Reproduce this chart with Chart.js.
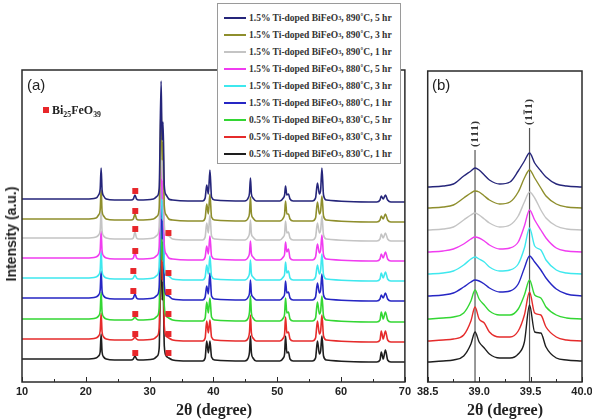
<!DOCTYPE html>
<html lang="en">
<head>
<meta charset="UTF-8">
<title>Ti-doped BiFeO3 XRD patterns</title>
<script src="https://cdn.jsdelivr.net/npm/chart.js@4.4.0/dist/chart.umd.min.js"></script>
<style>
  body { margin: 0; background: #fff; }
  #wrap { position: relative; width: 592px; height: 420px; overflow: hidden; font-family: "Liberation Sans", Arial, sans-serif; color: #222; }
  canvas { position: absolute; top: 0; }
  #chartA { left: 0; }
  #chartB { left: 414px; }
  .lbl { position: absolute; white-space: nowrap; }
  .panel { font-size: 15px; top: 76px; }
  .xtitle { top: 410px; font: bold 16px "Liberation Serif", serif; transform: translate(-50%, -50%); }
  .ytitle { left: 11px; top: 234px; font: bold 14px "Liberation Sans", Arial, sans-serif; transform: translate(-50%, -50%) rotate(-90deg); }
  #bi25 { left: 43px; top: 103px; font: bold 12px "Liberation Serif", serif; }
  #bi25 i { display: inline-block; width: 6px; height: 6px; background: #e8262a; margin-right: 3px; vertical-align: 1px; }
  sub { font-size: 0.65em; vertical-align: -0.35em; line-height: 0; }
  #legend { position: absolute; left: 217px; top: 3px; width: 184px; height: 161px; border: 1px solid #9a9a9a; background: #fff; padding-top: 5px; box-sizing: border-box; }
  #legend .row { display: flex; align-items: center; height: 17.1px; padding-left: 6px; font: bold 9.5px "Liberation Serif", serif; color: #333; }
  #legend .sw { display: inline-block; width: 22px; height: 2px; margin-right: 3px; }
</style>
</head>
<body>
<div id="wrap">
  <canvas id="chartA" width="414" height="420"></canvas>
  <canvas id="chartB" width="190" height="420"></canvas>
  <div id="legend"></div>
  <div class="lbl panel" style="left:27px">(a)</div>
  <div class="lbl panel" style="left:432px">(b)</div>
  <div class="lbl" id="bi25"><i></i>Bi<sub>25</sub>FeO<sub>39</sub></div>
  <div class="lbl ytitle">Intensity (a.u.)</div>
  <div class="lbl xtitle" style="left:214px">2θ (degree)</div>
  <div class="lbl xtitle" style="left:505px">2θ (degree)</div>
</div>

<script>
// samples, top to bottom
const doping = ["1.5%", "1.5%", "1.5%", "1.5%", "1.5%", "1.5%", "0.5%", "0.5%", "0.5%"];
const tempC = [890, 890, 890, 880, 880, 880, 830, 830, 830];
const hours = [5, 3, 1, 5, 3, 1, 5, 3, 1];
const colors = ["#25257a", "#8e8e2c", "#c4c4c4", "#f03cf0", "#3ee8ee", "#2626c4", "#33d633", "#e52b2b", "#1e1e1e"];

// panel (a): wide scan, 10-70 deg
const twoThetaA = [10, 20, 21.6, 22.0, 22.25, 22.4, 22.55, 22.8, 23.2, 24.5,
  27.1, 27.45, 27.7, 27.95, 28.3,
  30.6, 31.2, 31.5, 31.8, 31.95, 32.1, 32.3, 32.6, 33.0, 33.6,
  36.0, 38.3, 38.7, 38.95, 39.2, 39.45, 39.7, 40.2,
  44.9, 45.45, 45.65, 45.8, 45.95, 46.2, 46.7,
  50.4, 50.95, 51.15, 51.3, 51.5, 51.75, 52.0, 52.5,
  55.5, 56.0, 56.3, 56.6, 56.8, 57.0, 57.25, 57.7,
  65.6, 66.1, 66.3, 66.6, 66.95, 67.3, 67.8, 70];
const offsetA = [180, 160, 141, 121, 101, 81, 60, 40, 20];
const navyA = [3,3,4,7,13,34,12,6,3,2, 2,3,7,3,2, 3,6,14,121,62,80,16,7,3,2,
  1,1,4,17,8,32,5,2, 1,4,9,24,8,4,1, 1,4,7,16,7,8,3,1, 1,4,19,8,12,34,7,2, 0,2,6,3,7,2,0,0];
const oliveA = [3,3,4,7,12,32,11,6,3,2, 2,3,8,3,2, 3,6,14,120,62,80,16,7,3,2,
  1,1,4,18,8,28,5,2, 1,4,9,25,8,4,1, 1,4,8,21,8,8,3,1, 1,4,20,8,11,26,6,2, 0,2,6,3,8,2,0,0];
const grayA = [3,3,4,6,11,30,10,5,3,2, 2,3,9,3,2, 3,6,14,120,62,80,16,6,5,2,
  1,1,4,18,8,26,5,2, 1,4,8,21,7,4,1, 1,4,7,20,8,9,3,1, 1,4,18,8,11,25,6,2, 0,2,7,3,8,2,0,0];
const magentaA = [3,3,4,6,11,30,10,5,3,2, 2,3,8,3,2, 3,6,14,120,62,80,16,7,3,2,
  1,1,4,15,7,25,5,2, 1,4,8,20,7,4,1, 1,4,7,19,9,12,3,1, 1,4,17,8,11,26,6,2, 0,2,7,3,9,2,0,0];
const cyanA = [3,3,4,6,11,30,10,5,3,2, 2,3,6,3,2, 3,6,14,120,62,80,16,6,5,2,
  1,1,4,16,7,25,5,2, 1,4,8,21,7,4,1, 1,4,7,19,8,10,3,1, 1,4,16,7,11,27,6,2, 0,2,8,3,9,2,0,0];
const blueA = [3,3,4,6,11,30,10,5,3,2, 2,3,7,3,2, 3,6,14,120,62,80,16,6,5,2,
  1,1,4,15,7,28,5,2, 1,4,8,21,7,4,1, 1,4,7,20,8,9,3,1, 1,4,18,8,11,27,6,2, 0,2,6,3,8,2,0,0];
const greenA = [3,3,4,6,11,30,10,5,3,2, 2,3,5,3,2, 3,6,14,120,62,80,16,6,4,2,
  1,1,4,20,9,24,5,2, 1,4,10,26,9,4,1, 1,4,8,24,9,10,3,1, 1,4,20,8,11,26,6,2, 0,2,10,3,10,2,0,0];
const redA = [3,3,4,6,11,29,10,5,3,2, 2,3,5,3,2, 3,6,14,120,62,80,16,6,4,2,
  1,1,4,21,9,22,5,2, 1,4,10,27,9,4,1, 1,4,8,25,9,10,3,1, 1,4,21,8,11,27,6,2, 0,2,11,3,11,2,0,0];
const blackA = [3,3,4,6,10,28,10,5,3,2, 2,3,6,3,2, 3,6,14,120,62,80,16,6,4,2,
  1,1,4,21,9,21,5,2, 1,4,10,26,9,4,1, 1,4,8,26,9,10,3,1, 1,4,21,8,11,26,6,2, 0,2,10,3,12,2,0,0];
const seriesA = [navyA, oliveA, grayA, magentaA, cyanA, blueA, greenA, redA, blackA];

// Bi25FeO39 impurity markers
const bi25X = [27.75, 27.75, 27.75, 27.75, 27.45, 27.45, 27.75, 27.75, 27.75, 32.95, 32.95, 32.95, 32.95, 32.95, 32.95];
const bi25Y = [191, 171, 153, 131, 111, 91, 68, 48, 29, 149, 109, 90, 68, 48, 29];

const ticksA = [10, 20, 30, 40, 50, 60, 70];
const minorA = [15, 25, 35, 45, 55, 65];

// panel (b): zoom on the 39-39.5 deg doublet
const twoThetaB = [38.5, 38.65, 38.75, 38.85, 38.92, 38.96, 39.0, 39.05, 39.1, 39.2,
  39.3, 39.38, 39.44, 39.49, 39.54, 39.6, 39.65, 39.75, 39.85, 40.0];
const offsetB = [195, 174, 152, 130, 108, 86, 63, 41, 20];
const navyB    = [0,1,3,11,16,19,17,12,7,3, 5,16,26,34,24,16,10,3,1,0];
const oliveB   = [0,1,3,10,15,17,16,12,8,4, 6,16,30,38,30,20,12,4,1,0];
const grayB    = [0,1,3,10,15,17,15,11,7,3, 5,14,28,38,32,20,12,4,1,0];
const magentaB = [0,1,3,8,13,15,14,11,7,3, 4,10,26,42,32,22,14,4,1,0];
const cyanB    = [0,1,3,9,15,17,15,12,7,3, 4,10,26,46,28,24,14,4,1,0];
const blueB    = [0,1,3,9,14,16,15,12,8,4, 5,12,28,40,34,26,18,7,2,0];
const greenB   = [0,1,2,6,18,29,20,14,8,4, 4,10,24,39,24,21,12,4,1,0];
const redB     = [0,1,2,6,20,34,22,18,9,4, 4,10,26,49,28,26,14,4,1,0];
const blackB   = [0,1,2,6,18,30,20,14,8,4, 4,8,20,57,30,29,15,4,2,1];
const seriesB = [navyB, oliveB, grayB, magentaB, cyanB, blueB, greenB, redB, blackB];

const hklX = [38.96, 39.49];
const hklTop = [232, 254];
const ticksB = [38.5, 39.0, 39.5, 40.0];
const minorB = [38.75, 39.25, 39.75];

const labels = doping.map((d, i) => `${d} Ti-doped BiFeO<sub>3</sub>, ${tempC[i]}˚C, ${hours[i]} hr`);

// legend box
const legend = document.getElementById("legend");
labels.forEach((t, i) => {
    const row = document.createElement("div");
    row.className = "row";
    row.innerHTML = `<span class="sw" style="background:${colors[i]}"></span>${t}`;
    legend.appendChild(row);
});

Chart.defaults.font.family = '"Liberation Sans", Arial, sans-serif';
Chart.defaults.color = "#222";

// box around the plot and inward tick marks
const framePlugin = {
    id: "frame",
    afterDatasetsDraw(chart, args, opts) {
        const { ctx, chartArea: a, scales: { x } } = chart;
        ctx.save();
        ctx.strokeStyle = "#2a2a2a";
        ctx.lineWidth = 1.5;
        ctx.strokeRect(a.left, a.top, a.right - a.left, a.bottom - a.top);
        ctx.lineWidth = 1;
        ctx.beginPath();
        opts.major.forEach(v => {
            const px = Math.round(x.getPixelForValue(v)) + 0.5;
            ctx.moveTo(px, a.bottom); ctx.lineTo(px, a.bottom - 5);
        });
        opts.minor.forEach(v => {
            const px = Math.round(x.getPixelForValue(v)) + 0.5;
            ctx.moveTo(px, a.bottom); ctx.lineTo(px, a.bottom - 3);
        });
        ctx.stroke();
        ctx.restore();
    }
};

// (111) and (11-1) labels over the reference lines
const hklPlugin = {
    id: "hkl",
    afterDatasetsDraw(chart) {
        const { ctx, scales: { x, y } } = chart;
        const parts = [[["(", 0], ["1", 0], ["1", 0], ["1", 0], [")", 0]],
                       [["(", 0], ["1", 0], ["1", 1], ["1", 0], [")", 0]]];
        ctx.save();
        ctx.font = 'bold 11px "Liberation Serif", serif';
        ctx.fillStyle = "#333";
        ctx.strokeStyle = "#333";
        ctx.textBaseline = "middle";
        hklX.forEach((v, i) => {
            ctx.save();
            ctx.translate(x.getPixelForValue(v), y.getPixelForValue(hklTop[i]) - 3);
            ctx.rotate(-Math.PI / 2);
            let cx = 0;
            parts[i].forEach(([ch, bar]) => {
                const w = ctx.measureText(ch).width;
                ctx.fillText(ch, cx, 0);
                if (bar) {
                    ctx.beginPath(); ctx.lineWidth = 1;
                    ctx.moveTo(cx + 0.5, -5.5); ctx.lineTo(cx + w - 0.5, -5.5); ctx.stroke();
                }
                cx += w + 0.5;
            });
            ctx.restore();
        });
        ctx.restore();
    }
};

function xy(xs, ys, off) {
    return xs.map((x, i) => ({ x: x, y: ys[i] + off }));
}

const datasetsA = seriesA.map((s, i) => ({
    data: xy(twoThetaA, s, offsetA[i]),
    borderColor: colors[i],
    borderWidth: 1.6,
    pointRadius: 0,
    cubicInterpolationMode: "monotone"
}));
datasetsA.push({
    data: bi25X.map((x, i) => ({ x: x, y: bi25Y[i] })),
    showLine: false,
    pointStyle: "rect",
    pointRadius: 4.2,
    backgroundColor: "#e8262a",
    borderWidth: 0,
    order: -1
});

new Chart(document.getElementById("chartA"), {
    type: "line",
    data: { datasets: datasetsA },
    options: {
        responsive: false,
        animation: false,
        layout: { padding: { left: 22, right: 9, top: 70, bottom: 0 } },
        plugins: { legend: { display: false }, tooltip: { enabled: false }, frame: { major: ticksA, minor: minorA } },
        scales: {
            x: {
                type: "linear", min: 10, max: 70,
                grid: { display: false, drawTicks: false },
                border: { display: false },
                ticks: { stepSize: 10, padding: 3, font: { size: 11, weight: "bold" } },
                afterFit: s => { s.height = 38; }
            },
            y: { display: false, min: 0, max: 312 }
        }
    },
    plugins: [framePlugin]
});

const datasetsB = seriesB.map((s, i) => ({
    data: xy(twoThetaB, s, offsetB[i]),
    borderColor: colors[i],
    borderWidth: 1.4,
    pointRadius: 0,
    cubicInterpolationMode: "monotone"
}));
hklX.forEach((v, i) => {
    datasetsB.push({
        data: [{ x: v, y: 0 }, { x: v, y: hklTop[i] }],
        borderColor: "#555",
        borderWidth: 1.2,
        pointRadius: 0,
        order: 1
    });
});

new Chart(document.getElementById("chartB"), {
    type: "line",
    data: { datasets: datasetsB },
    options: {
        responsive: false,
        animation: false,
        layout: { padding: { left: 12, right: 22, top: 71, bottom: 0 } },
        plugins: { legend: { display: false }, tooltip: { enabled: false }, frame: { major: ticksB, minor: minorB } },
        scales: {
            x: {
                type: "linear", min: 38.5, max: 40.0,
                grid: { display: false, drawTicks: false },
                border: { display: false },
                ticks: { stepSize: 0.5, padding: 3, font: { size: 11, weight: "bold" }, callback: v => v.toFixed(1) },
                afterFit: s => { s.height = 38; }
            },
            y: { display: false, min: 0, max: 311 }
        }
    },
    plugins: [framePlugin, hklPlugin]
});
</script>
</body>
</html>
